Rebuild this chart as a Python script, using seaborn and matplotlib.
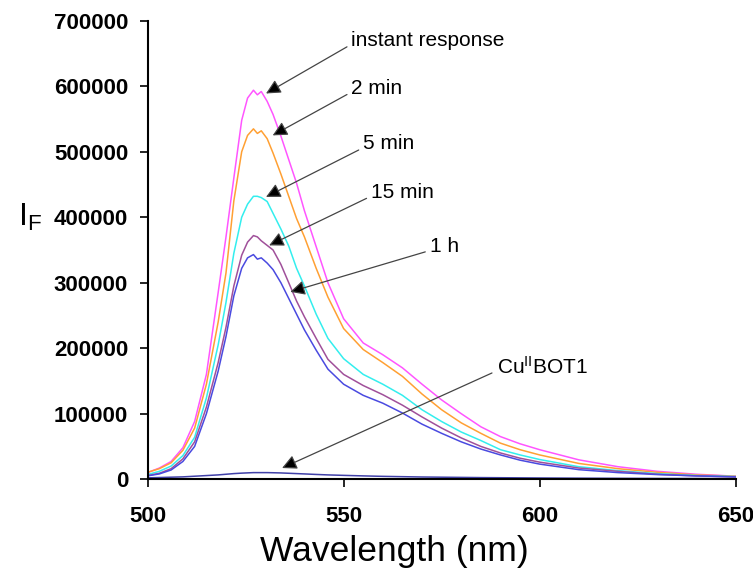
import numpy as np
import pandas as pd
import matplotlib
matplotlib.use("Agg")
import matplotlib.pyplot as plt
import seaborn as sns

# wavelength grid (nm)
wavelength = [500, 503, 506, 509, 512, 515, 518, 520, 522, 524, 525.5, 527, 528, 529,
              530.5, 532, 534, 536, 538, 540, 543, 546, 550, 555, 560, 565, 570, 575,
              580, 585, 590, 595, 600, 610, 620, 630, 640, 650]

# fluorescence intensity
instant = [10000, 17000, 27000, 48000, 88000, 160000, 285000, 370000, 460000, 548000,
           582000, 594000, 587000, 592000, 577000, 557000, 524000, 488000, 452000, 410000,
           355000, 300000, 245000, 208000, 190000, 170000, 145000, 121000, 100000, 80000,
           65000, 54000, 45000, 29500, 19000, 12000, 7500, 4500]
min2 = [10500, 16000, 25000, 44000, 78000, 145000, 240000, 315000, 425000, 500000,
        525000, 535000, 528000, 532000, 520000, 498000, 466000, 432000, 398000, 370000,
        322000, 278000, 230000, 198000, 178000, 157000, 130000, 106000, 86000, 70000,
        55000, 45000, 37000, 24000, 16000, 10500, 6500, 4500]
min5 = [7000, 12000, 20000, 36000, 64000, 124000, 205000, 270000, 345000, 400000,
        420000, 432000, 432000, 430000, 424000, 406000, 382000, 356000, 322000, 295000,
        252000, 215000, 184000, 160000, 145000, 128000, 106000, 88000, 72000, 59000,
        45000, 37000, 30000, 19000, 13000, 8500, 5500, 4000]
min15 = [5500, 9000, 16000, 31000, 57000, 110000, 178000, 232000, 295000, 342000,
         362000, 372000, 370000, 364000, 357000, 350000, 328000, 300000, 272000, 248000,
         215000, 183000, 160000, 143000, 129000, 113000, 95000, 78000, 63000, 50000,
         40000, 32000, 26000, 17000, 12000, 7500, 5000, 3500]
h1 = [5000, 8000, 14000, 27000, 50000, 100000, 165000, 218000, 280000, 322000,
      338000, 343000, 336000, 338000, 330000, 320000, 300000, 276000, 252000, 228000,
      197000, 168000, 145000, 128000, 116000, 101000, 84000, 70000, 57000, 46000,
      37000, 29000, 23000, 14500, 10000, 7000, 5000, 3500]
cu_bot1 = [2000, 2500, 3000, 3500, 4500, 5500, 6500, 7500, 8500, 9200,
           9600, 10000, 10000, 10000, 10000, 9800, 9500, 9000, 8500, 8000,
           7200, 6500, 5800, 5000, 4300, 3800, 3300, 3000, 2700, 2400,
           2200, 2000, 1800, 1500, 1300, 1100, 1000, 900]

series_names = ["instant response", "2 min", "5 min", "15 min", "1 h", "CuBOT1"]
series_values = [instant, min2, min5, min15, h1, cu_bot1]
colors = ["#ff55ff", "#ffa033", "#33eeee", "#a0509a", "#4a4ae0", "#4040a8"]

df = pd.concat([pd.DataFrame({"wl": wavelength, "IF": v, "series": n})
                for n, v in zip(series_names, series_values)], ignore_index=True)

sns.set_style("ticks")
plt.rcParams["font.family"] = ["Liberation Sans", "DejaVu Sans"]
plt.rcParams["mathtext.fontset"] = "custom"
plt.rcParams["mathtext.rm"] = "Liberation Sans"
plt.rcParams["mathtext.it"] = "Liberation Sans:italic"
plt.rcParams["text.color"] = "black"
plt.rcParams["axes.labelcolor"] = "black"
plt.rcParams["xtick.color"] = "black"
plt.rcParams["ytick.color"] = "black"

fig = plt.figure(figsize=(7.53, 5.78), dpi=100)
ax = fig.add_axes([0.196, 0.171, 0.781, 0.793])

sns.lineplot(data=df, x="wl", y="IF", hue="series", palette=dict(zip(series_names, colors)),
             linewidth=1.1, legend=False, ax=ax, sort=False)

ax.set_xlim(500, 650)
ax.set_ylim(0, 700000)
ax.set_xticks([500, 550, 600, 650])
ax.set_yticks(range(0, 700001, 100000))
ax.yaxis.set_major_formatter(matplotlib.ticker.FuncFormatter(lambda v, p: f"{int(v)}"))
for lab in ax.get_xticklabels() + ax.get_yticklabels():
    lab.set_fontweight("bold")
ax.tick_params(axis="both", labelsize=16, length=6, width=1.2, colors="black",
               direction="out", pad=8)
ax.tick_params(axis="x", pad=13)
sns.despine(ax=ax)
for s in ["left", "bottom"]:
    ax.spines[s].set_linewidth(1.5)
    ax.spines[s].set_color("black")

ax.set_xlabel("Wavelength (nm)", fontsize=25.5, va="center")
ax.xaxis.set_label_coords(0.42, -0.157)
ax.set_ylabel("I$_{\\mathrm{F}}$", fontsize=23, rotation=0, va="center")
ax.yaxis.set_label_coords(-0.2, 0.57)

# arrows: (label, text position, arrow tip)
notes = [
    ("instant response", (552, 670000), (530.2, 589000)),
    ("2 min", (552, 597000), (531.9, 525000)),
    ("5 min", (555, 512000), (530.2, 431000)),
    ("15 min", (557, 438000), (531.0, 357000)),
    ("1 h", (572, 355000), (536.4, 286000)),
    ("Cu$^{\\mathrm{II}}$BOT1", (589, 172000), (534.3, 17000)),
]
for text, xytext, xy in notes:
    ax.annotate(text, xy=xy, xytext=xytext, fontsize=15, ha="left", va="center",
                arrowprops=dict(arrowstyle="-|>", ec="#444444", fc="black", lw=0.9,
                                mutation_scale=22, relpos=(0, 0.3), shrinkA=1, shrinkB=0))

fig.savefig("out.png", dpi=100)
